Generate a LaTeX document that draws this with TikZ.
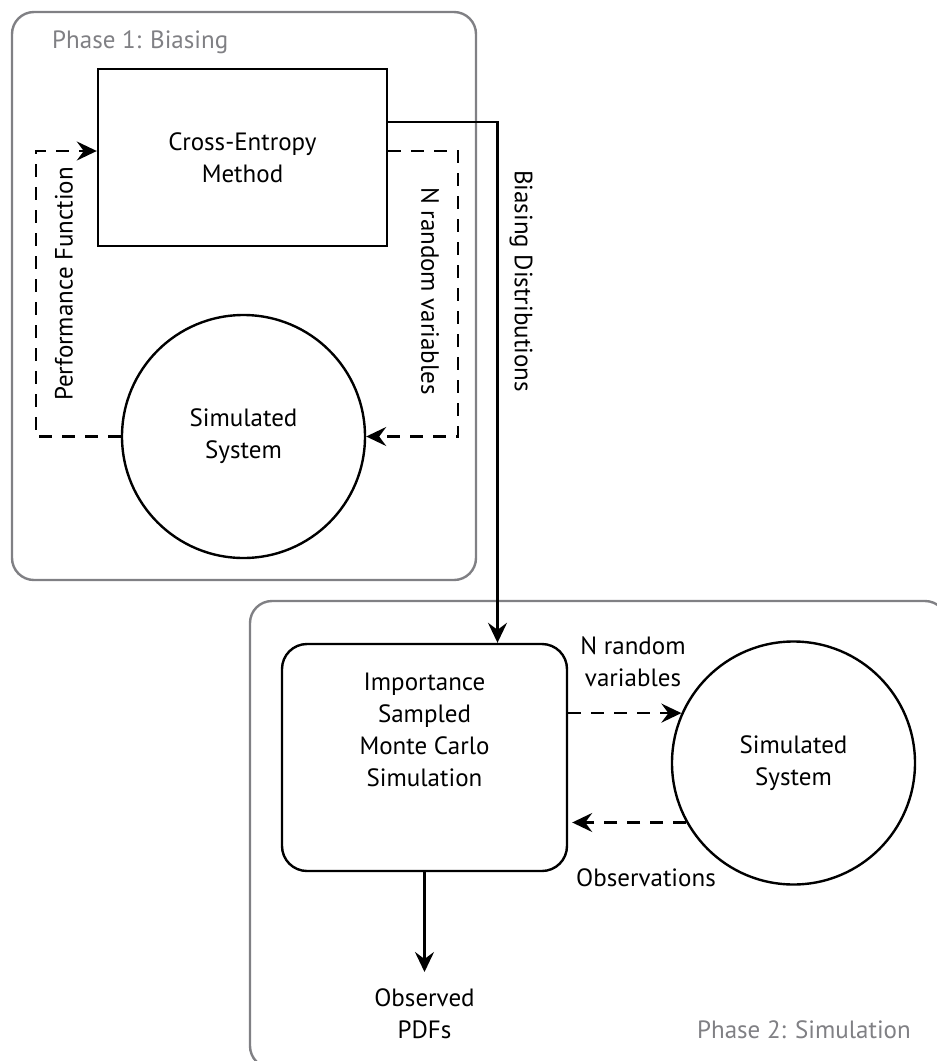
\documentclass[tikz,border=0pt]{standalone}
\usepackage{fontspec}
\setmainfont{PT Sans}
\usetikzlibrary{arrows.meta,positioning}
\definecolor{grisfase}{RGB}{128,128,132}
\begin{document}
\begin{tikzpicture}[x=1pt,y=-1pt]
\tikzset{
    rotulo/.style={text centered, align=center, inner sep=0pt, font=\fontsize{25}{32}\selectfont},
    caja/.style={draw, line width=2.4pt, rotulo},
    sistema/.style={draw, circle, line width=2.4pt, minimum size=243pt, rotulo},
    fase/.style={draw=grisfase, line width=2.4pt, rounded corners=22pt},
    flecha/.style={line width=2.4pt, -{Stealth[length=20pt,width=19pt,inset=7pt]}},
    flujo/.style={flecha, dash pattern=on 13pt off 10pt}
}
\useasboundingbox (0,0) rectangle (937,1061);
% fase 1
\draw[fase] (12,12) rectangle (476,580);
\node[rotulo, anchor=base west, text=grisfase] (fase1) at (52,48) {Phase 1: Biasing};
\node[caja, minimum width=289pt, minimum height=177pt] (ce) at (242.5,157.5) {Cross-Entropy\\Method};
\node[sistema] (sim1) at (243.5,436.5) {Simulated\\System};
\draw[flujo] (sim1.west) -- ++(-85,0) |- ([yshift=6.5pt]ce.west);
\draw[flujo] ([yshift=6.5pt]ce.east) -- ++(70,0) |- (sim1.east);
\node[rotulo, rotate=90] (perf) at (64,284) {Performance Function};
\node[rotulo, rotate=-90] (nvar1) at (430,291) {N random variables};
% fase 2
\begin{scope}
\clip (0,0) rectangle (937,1061);
\draw[fase] (250,601) rectangle (947,1068);
\end{scope}
\node[rotulo, anchor=base east, text=grisfase] (fase2) at (911,1038) {Phase 2: Simulation};
\node[caja, rounded corners=25pt, minimum width=285pt, minimum height=227pt] (is) at (424.5,757.5) {};
\node[rotulo] (istxt) at ([yshift=28pt]is.center) {Importance\\Sampled\\Monte Carlo\\Simulation};
\node[sistema] (sim2) at (793.5,763) {Simulated\\System};
\draw[flujo] (sim2.156 -| is.east) -- (sim2.156);
\draw[flujo, shorten >=4pt] (sim2.209) -- (sim2.209 -| is.east);
\node[rotulo] (nvar2) at (633,662) {N random\\variables};
\node[rotulo] (obs) at (646,878) {Observations};
\node[rotulo, anchor=north] (pdfs) at (424.5,988) {Observed\\PDFs};
\draw[flecha, shorten >=16pt] (is.south) -- (pdfs.north);
% entre fases
\draw[flecha] ([yshift=35.5pt]ce.east) -| ([xshift=73pt]is.north);
\node[rotulo, rotate=-90] (bias) at (521,281) {Biasing Distributions};
\end{tikzpicture}
\end{document}
